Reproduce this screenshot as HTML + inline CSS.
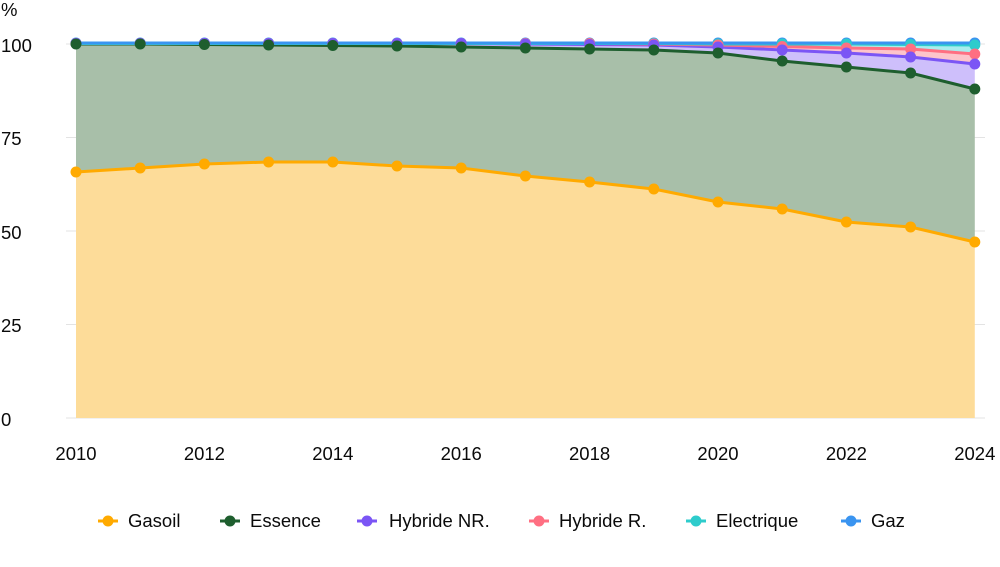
<!DOCTYPE html>
<html><head><meta charset="utf-8"><style>
body{margin:0;background:#fff;width:1000px;height:562px;overflow:hidden;font-family:"Liberation Sans",sans-serif}
</style></head><body>
<svg id="s" width="1000" height="562" xmlns="http://www.w3.org/2000/svg" font-family="Liberation Sans, sans-serif" font-size="18.5" fill="#0a0a0a">
<g stroke="#e3e3e3" stroke-width="1">
<line x1="66" x2="985" y1="44" y2="44"/><line x1="66" x2="985" y1="137.5" y2="137.5"/><line x1="66" x2="985" y1="231" y2="231"/><line x1="66" x2="985" y1="324.5" y2="324.5"/><line x1="66" x2="985" y1="418" y2="418"/>
</g>
<g id="plot"></g>
<text x="1" y="16">%</text>
<text x="1" y="52">100</text><text x="1" y="145">75</text><text x="1" y="239">50</text><text x="1" y="332">25</text><text x="1" y="426">0</text>
<g text-anchor="middle">
<text x="76" y="460">2010</text><text x="204.4" y="460">2012</text><text x="332.8" y="460">2014</text><text x="461.2" y="460">2016</text><text x="589.6" y="460">2018</text><text x="718" y="460">2020</text><text x="846.4" y="460">2022</text><text x="974.8" y="460">2024</text>
</g>
<g id="leg"></g>
<g>
<text x="128" y="527">Gasoil</text>
<text x="250" y="527">Essence</text>
<text x="389" y="527">Hybride NR.</text>
<text x="559" y="527">Hybride R.</text>
<text x="716" y="527">Electrique</text>
<text x="871" y="527">Gaz</text>
</g>
</svg>
<script>
var X=[];for(var i=0;i<15;i++)X.push(76+i*64.2);
var base=Array(15).fill(418);
var S=[
{c:"#FFAA00",f:"#FDDC99",y:[172,168,164,162,162,166,168,176,182,189,202,209,222,227,242]},
{c:"#1E5E2E",f:"#A8BFA9",y:[44,44,44.5,45,45.5,46,47,48,49,50,53,61,67,73,89]},
{c:"#7B55F5",f:"#CEBFFB",y:[43.5,43.5,43.5,43.5,43.5,43.5,43.5,44,44.5,45,47,50,53,57,64]},
{c:"#FF6F82",f:"#FDC4CB",y:[43.5,43.5,43.5,43.5,43.5,43.5,43.5,43.5,43.5,44,45,46.5,48,49,54]},
{c:"#2ECCCC",f:"#A8EDED",y:[43.5,43.5,43.5,43.5,43.5,43.5,43.5,43.5,43.5,43.5,44,44,44,44.5,45]},
{c:"#3A94F0",f:"#B5D6F9",y:[43,43,43,43,43,43,43,43,43,43,43,43,43,43,43]}];
var h="",prev=base;
S.forEach(function(s){var p="";for(var i=0;i<15;i++)p+=X[i]+","+s.y[i]+" ";for(var i=14;i>=0;i--)p+=X[i]+","+prev[i]+" ";h+='<polygon points="'+p+'" fill="'+s.f+'"/>';prev=s.y;});
S.forEach(function(s){var p="";for(var i=0;i<15;i++)p+=X[i]+","+s.y[i]+" ";h+='<polyline points="'+p+'" fill="none" stroke="'+s.c+'" stroke-width="3"/>';});
for(var k=S.length-1;k>=0;k--){var s=S[k];for(var i=0;i<15;i++)h+='<circle cx="'+X[i]+'" cy="'+s.y[i]+'" r="5.5" fill="'+s.c+'"/>';}
document.getElementById("plot").innerHTML=h;
var lx=[108,230,367,539,696,851],l="";
S.forEach(function(s,i){l+='<line x1="'+(lx[i]-10)+'" x2="'+(lx[i]+10)+'" y1="521" y2="521" stroke="'+s.c+'" stroke-width="3"/><circle cx="'+lx[i]+'" cy="521" r="5.5" fill="'+s.c+'"/>';});
document.getElementById("leg").innerHTML=l;
</script>
</body></html>
